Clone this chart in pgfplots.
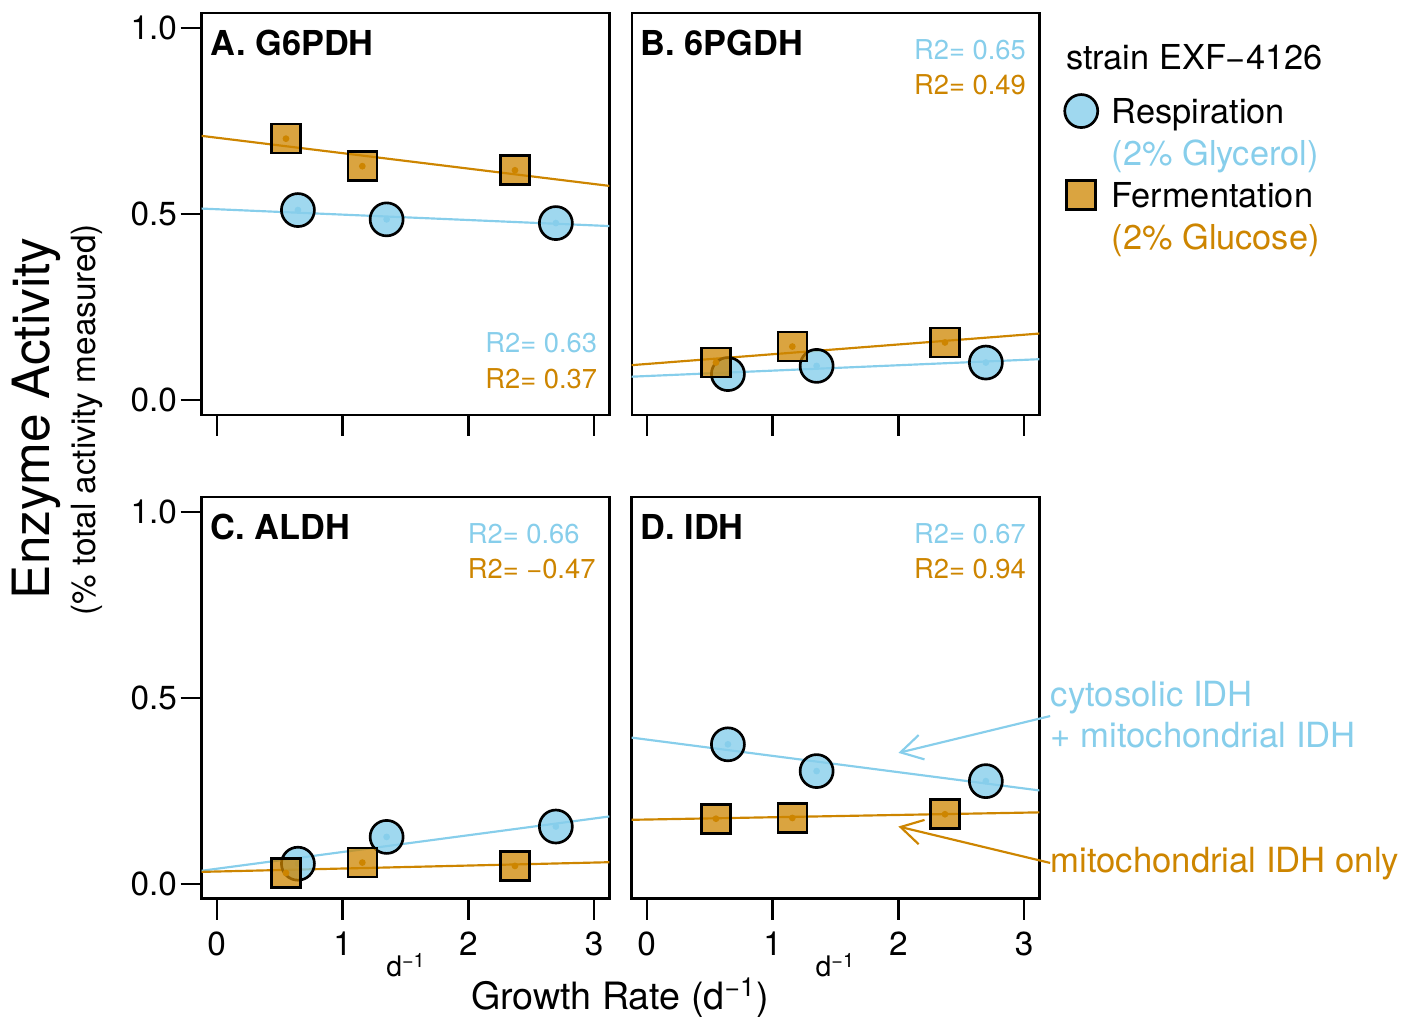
\documentclass[border=0pt]{standalone}
\usepackage{pgfplots}
\pgfplotsset{compat=1.18}
\usepackage{fontspec}
\setmainfont{TeX Gyre Heros}
\usetikzlibrary{arrows.meta}
\definecolor{sky}{RGB}{135,206,235}
\definecolor{org}{RGB}{205,133,0}
\pgfplotsset{
  panel/.style={
    scale only axis, width=122.3pt, height=120.5pt,
    xmin=-0.12, xmax=3.12, ymin=-0.04, ymax=1.04,
    axis line style={line width=0.7pt},
    tick style={black, line width=0.7pt},
    tick align=outside, major tick length=6.3pt,
    xtick={0,1,2,3}, ytick={0,0.5,1},
    xtick pos=bottom, ytick pos=left,
    clip=false,
    tick label style={font=\fontsize{10}{12}\selectfont},
    /pgf/number format/assume math mode=true,
    yticklabel style={xshift=2.4pt, /pgf/number format/.cd, fixed, fixed zerofill, precision=1},
  },
  fitline/.style={no markers, line width=0.65pt, forget plot},
  resp/.style={only marks, mark=*, mark size=4.95pt, mark options={fill=sky, fill opacity=0.8, draw=black, line width=0.8pt}},
  ferm/.style={only marks, mark=square*, mark size=4.35pt, mark options={fill=org, fill opacity=0.75, draw=black, line width=0.8pt}},
  dotb/.style={only marks, mark=*, mark size=0.8pt, color=sky, forget plot},
  doto/.style={only marks, mark=*, mark size=0.8pt, color=org, forget plot},
}
\tikzset{
  ttl/.style={anchor=base west, inner sep=0pt, font=\bfseries\fontsize{10.3}{12}\selectfont},
  rtwo/.style={anchor=base west, inner sep=0pt, font=\fontsize{8.2}{10}\selectfont},
  ann/.style={anchor=base west, inner sep=0pt, font=\fontsize{10.4}{12}\selectfont},
}
\begin{document}
\begin{tikzpicture}
\useasboundingbox (0,0) rectangle (421.5pt,305.1pt);
% ---------------- A
\begin{axis}[panel, at={(60.5pt,180.6pt)}, anchor=south west, xticklabels={}]
\addplot[fitline, org] coordinates {(-0.12,0.7105) (3.12,0.576)};
\addplot[fitline, sky] coordinates {(-0.12,0.515) (3.12,0.468)};
\addplot[resp] coordinates {(0.645,0.511) (1.35,0.486) (2.695,0.476)};
\addplot[dotb] coordinates {(0.645,0.511) (1.35,0.486) (2.695,0.476)};
\addplot[ferm] coordinates {(0.55,0.703) (1.157,0.629) (2.37,0.618)};
\addplot[doto] coordinates {(0.55,0.703) (1.157,0.629) (2.37,0.618)};
\node[ttl] at (axis cs:-0.053,0.927) {A. G6PDH};
\node[rtwo, text=sky] at (axis cs:2.13,0.128) {R2= 0.63};
\node[rtwo, text=org] at (axis cs:2.13,0.031) {R2= 0.37};
\end{axis}
% ---------------- B
\begin{axis}[panel, at={(189.5pt,180.6pt)}, anchor=south west, xticklabels={}, ytick=\empty,
  legend style={at={(1.033,0.809)}, anchor=north west, draw=none, fill=none, inner sep=0pt, outer sep=0pt,
    row sep=0pt, column sep=4.2pt, font=\fontsize{10.3}{12}\selectfont,
    nodes={inner sep=0pt, text height=10pt, text depth=2.6pt}},
  legend cell align=left]
\addlegendimage{resp}\addlegendentry{Respiration}
\addlegendimage{empty legend}\addlegendentry{\textcolor{sky}{(2\% Glycerol)}}
\addlegendimage{ferm}\addlegendentry{Fermentation}
\addlegendimage{empty legend}\addlegendentry{\textcolor{org}{(2\% Glucose)}}
\addplot[fitline, org] coordinates {(-0.12,0.094) (3.12,0.179)};
\addplot[fitline, sky] coordinates {(-0.12,0.063) (3.12,0.110)};
\addplot[resp, forget plot] coordinates {(0.645,0.070) (1.35,0.092) (2.695,0.101)};
\addplot[dotb] coordinates {(0.645,0.070) (1.35,0.092) (2.695,0.101)};
\addplot[ferm, forget plot] coordinates {(0.55,0.101) (1.157,0.144) (2.37,0.155)};
\addplot[doto] coordinates {(0.55,0.101) (1.157,0.144) (2.37,0.155)};
\node[ttl] at (axis cs:-0.053,0.927) {B. 6PGDH};
\node[rtwo, text=sky] at (axis cs:2.12,0.917) {R2= 0.65};
\node[rtwo, text=org] at (axis cs:2.12,0.823) {R2= 0.49};
\node[anchor=base west, inner sep=0pt, font=\fontsize{10.3}{12}\selectfont] at (rel axis cs:1.064,0.859) {strain EXF−4126};
\end{axis}
% ---------------- C
\begin{axis}[panel, at={(60.5pt,35.5pt)}, anchor=south west]
\addplot[fitline, sky] coordinates {(-0.12,0.035) (3.12,0.181)};
\addplot[fitline, org] coordinates {(-0.12,0.032) (3.12,0.058)};
\addplot[resp] coordinates {(0.645,0.054) (1.35,0.126) (2.695,0.154)};
\addplot[dotb] coordinates {(0.645,0.054) (1.35,0.126) (2.695,0.154)};
\addplot[ferm] coordinates {(0.55,0.029) (1.157,0.057) (2.37,0.048)};
\addplot[doto] coordinates {(0.55,0.029) (1.157,0.057) (2.37,0.048)};
\node[ttl] at (axis cs:-0.053,0.927) {C. ALDH};
\node[rtwo, text=sky] at (axis cs:1.99,0.916) {R2= 0.66};
\node[rtwo, text=org] at (axis cs:1.99,0.822) {R2= −0.47};
\end{axis}
% ---------------- D
\begin{axis}[panel, at={(189.5pt,35.5pt)}, anchor=south west, ytick=\empty]
\addplot[fitline, sky] coordinates {(-0.12,0.393) (3.12,0.251)};
\addplot[fitline, org] coordinates {(-0.12,0.172) (3.12,0.192)};
\addplot[resp] coordinates {(0.645,0.375) (1.35,0.303) (2.695,0.276)};
\addplot[dotb] coordinates {(0.645,0.375) (1.35,0.303) (2.695,0.276)};
\addplot[ferm] coordinates {(0.55,0.175) (1.157,0.177) (2.37,0.187)};
\addplot[doto] coordinates {(0.55,0.175) (1.157,0.177) (2.37,0.187)};
\node[ttl] at (axis cs:-0.053,0.927) {D. IDH};
\node[rtwo, text=sky] at (axis cs:2.12,0.916) {R2= 0.67};
\node[rtwo, text=org] at (axis cs:2.12,0.822) {R2= 0.94};
\draw[sky, line width=0.65pt, -{Straight Barb[length=6.5pt,width=7.5pt]}] (axis cs:3.206,0.451) -- (axis cs:2.0,0.352);
\draw[org, line width=0.65pt, -{Straight Barb[length=6.5pt,width=7.5pt]}] (axis cs:3.206,0.056) -- (axis cs:2.0,0.154);
\node[ann, text=sky] at (axis cs:3.206,0.478) {cytosolic IDH};
\node[ann, text=sky] at (axis cs:3.206,0.367) {+ mitochondrial IDH};
\node[ann, text=org] at (axis cs:3.206,0.029) {mitochondrial IDH only};
\end{axis}
% ---------------- outer labels
\node[rotate=90, anchor=base, inner sep=0pt, font=\fontsize{15.4}{18}\selectfont] at (15pt,179.6pt) {Enzyme Activity};
\node[rotate=90, anchor=base, inner sep=0pt, font=\fontsize{10}{12}\selectfont] at (28.5pt,179.1pt) {(\% total activity measured)};
\node[anchor=base, inner sep=0pt, font=\fontsize{11.3}{13}\selectfont] at (186pt,2.1pt) {Growth Rate (d\textsuperscript{−1})};
\node[anchor=base west, inner sep=0pt, font=\fontsize{8.5}{10}\selectfont] at (115.7pt,12.1pt) {d\textsuperscript{−1}};
\node[anchor=base west, inner sep=0pt, font=\fontsize{8.5}{10}\selectfont] at (244.5pt,12.1pt) {d\textsuperscript{−1}};
\end{tikzpicture}
\end{document}
